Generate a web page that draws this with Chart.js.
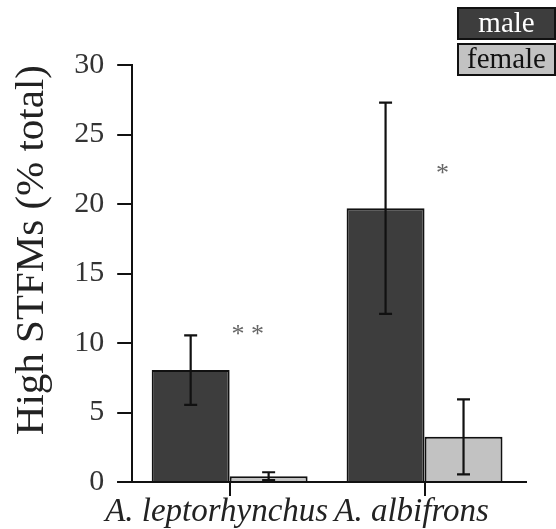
<!DOCTYPE html>
<html>
<head>
<meta charset="utf-8">
<script src="https://cdn.jsdelivr.net/npm/chart.js@4.4.1/dist/chart.umd.min.js"></script>
<style>
  html, body { margin: 0; padding: 0; background: #fff; }
  #wrap { width: 556px; height: 529px; position: relative; }
</style>
</head>
<body>
<div id="wrap"><canvas id="c" width="556" height="529"></canvas></div>
<script>
// ---- data ----
const categories = ['A. leptorhynchus', 'A. albifrons'];
const seriesNames = ['male', 'female'];
const maleValues = [8.05, 19.7];
const maleErrors = [2.5, 7.6];
const femaleValues = [0.42, 3.25];
const femaleErrors = [0.28, 2.7];
const sigLabels = ['* *', '*'];
const sigLevels = [11.0, 22.6];
const yTickMin = 0, yTickMax = 30, yMajorStep = 5, yMinorStep = 2.5;

const maleColor = '#3d3d3d';
const femaleColor = '#c2c2c2';
const serif = 'Liberation Serif';
Chart.defaults.font.family = serif;

const errorBarPlugin = {
  id: 'errorBars',
  afterDatasetsDraw(chart) {
    const ctx = chart.ctx;
    const y = chart.scales.y;
    const errs = [maleErrors, femaleErrors];
    ctx.save();
    ctx.strokeStyle = '#111';
    ctx.lineWidth = 2.2;
    chart.data.datasets.forEach((ds, di) => {
      const meta = chart.getDatasetMeta(di);
      meta.data.forEach((bar, i) => {
        const v = ds.data[i], e = errs[di][i];
        const x = bar.x;
        const yt = y.getPixelForValue(v + e);
        const yb = y.getPixelForValue(Math.max(v - e, 0));
        ctx.beginPath();
        ctx.moveTo(x, yt); ctx.lineTo(x, yb);
        ctx.moveTo(x - 6.5, yt); ctx.lineTo(x + 6.5, yt);
        ctx.moveTo(x - 6.5, yb); ctx.lineTo(x + 6.5, yb);
        ctx.stroke();
      });
    });
    ctx.restore();
  }
};

const decorPlugin = {
  id: 'decor',
  afterDraw(chart) {
    const ctx = chart.ctx;
    const xs = chart.scales.x, ys = chart.scales.y;
    const area = chart.chartArea;
    ctx.save();
    ctx.strokeStyle = '#111';
    ctx.lineWidth = 2;
    ys.ticks.forEach(t => {
      if (Math.abs(t.value % yMajorStep) > 1e-9) {
        const py = ys.getPixelForValue(t.value);
        ctx.beginPath();
        ctx.moveTo(area.left - 8, py);
        ctx.lineTo(area.left, py);
        ctx.stroke();
      }
    });
    const py0 = ys.getPixelForValue(0);
    ctx.beginPath();
    ctx.moveTo(area.left - 15, py0);
    ctx.lineTo(area.right + 5, py0);
    ctx.stroke();
    ctx.fillStyle = '#666';
    ctx.font = '26px "' + serif + '"';
    ctx.textAlign = 'center';
    ctx.textBaseline = 'middle';
    sigLabels.forEach((s, i) => {
      const px = xs.getPixelForValue(i) + 18;
      ctx.fillText(s, px, ys.getPixelForValue(sigLevels[i]) + 6);
    });
    const bx = 458, bw = 97, bh = 31;
    const boxes = [
      { y: 8, fill: maleColor, text: seriesNames[0], tc: '#fff' },
      { y: 44, fill: femaleColor, text: seriesNames[1], tc: '#111' }
    ];
    ctx.font = '29px "' + serif + '"';
    boxes.forEach(b => {
      ctx.fillStyle = b.fill;
      ctx.fillRect(bx, b.y, bw, bh);
      ctx.strokeStyle = '#111';
      ctx.lineWidth = 2;
      ctx.strokeRect(bx, b.y, bw, bh);
      ctx.fillStyle = b.tc;
      ctx.textAlign = 'center';
      ctx.textBaseline = 'middle';
      ctx.fillText(b.text, bx + bw / 2, b.y + bh / 2 + 1);
    });
    ctx.restore();
  }
};

new Chart(document.getElementById('c'), {
  type: 'bar',
  data: {
    labels: categories,
    datasets: [
      { label: seriesNames[0], data: maleValues, backgroundColor: maleColor, borderColor: '#111', borderWidth: 2 },
      { label: seriesNames[1], data: femaleValues, backgroundColor: femaleColor, borderColor: '#111', borderWidth: 2 }
    ]
  },
  options: {
    responsive: false,
    animation: false,
    devicePixelRatio: 1,
    layout: { padding: { left: 8, top: 65, right: 34, bottom: 0 } },
    plugins: { legend: { display: false }, tooltip: { enabled: false } },
    datasets: { bar: { categoryPercentage: 0.8, barPercentage: 1.0 } },
    scales: {
      x: {
        offset: true,
        grid: { display: true, offset: false, drawOnChartArea: false, drawTicks: true, tickLength: 14, color: '#111', lineWidth: 2 },
        border: { display: true, color: '#111', width: 2 },
        ticks: { color: '#222', padding: 0, labelOffset: -13, maxRotation: 0, minRotation: 0, autoSkip: false,
                 font: { family: serif, size: 33, style: 'italic', lineHeight: 1.0 } }
      },
      y: {
        min: yTickMin, max: yTickMax,
        grid: {
          display: true, drawOnChartArea: false, drawTicks: true, tickLength: 15, lineWidth: 2,
          color: (c) => (c.tick && Math.abs(c.tick.value % yMajorStep) < 1e-9) ? '#111' : 'rgba(0,0,0,0)'
        },
        border: { display: true, color: '#111', width: 2 },
        ticks: {
          stepSize: yMinorStep, color: '#333', padding: 13,
          font: { family: serif, size: 30 },
          callback: (v) => (Math.abs(v % yMajorStep) < 1e-9 ? String(v) : '')
        },
        title: { display: true, text: 'High STFMs (% total)', color: '#222', align: 'end',
                 font: { family: serif, size: 41, lineHeight: 1.2 }, padding: { top: 0, bottom: 4 } }
      }
    }
  },
  plugins: [errorBarPlugin, decorPlugin]
});
</script>
</body>
</html>
